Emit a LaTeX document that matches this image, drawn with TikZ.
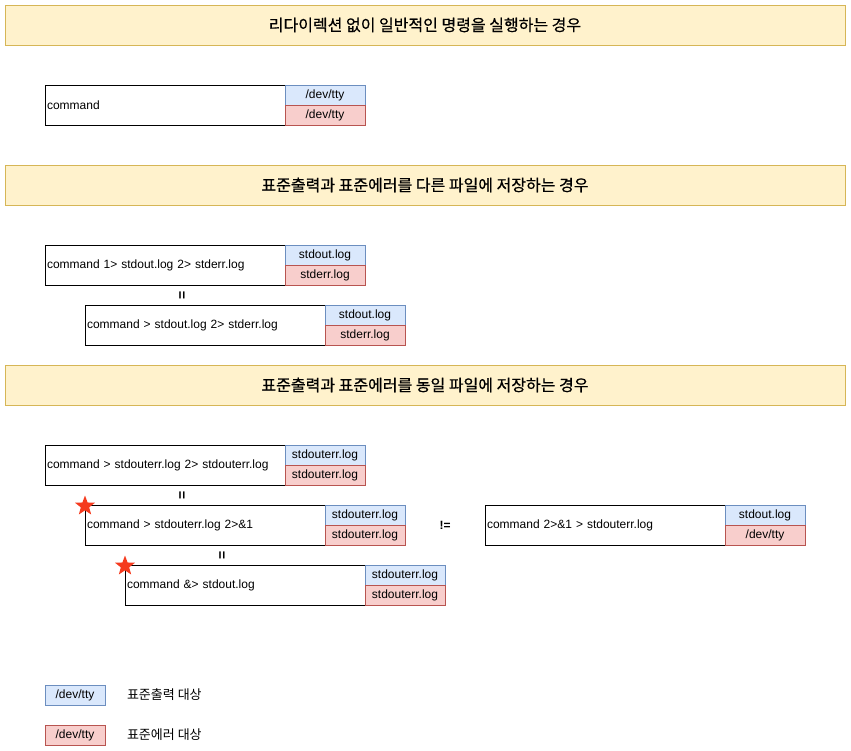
\documentclass[tikz,border=0pt]{standalone}
\usepackage{fontspec}
\setmainfont{Liberation Sans}
\newfontfamily\kr{Noto Sans CJK KR}
\newfontfamily\krbold[FakeBold=0.6]{Noto Sans CJK KR}
\usetikzlibrary{shapes.geometric}

\definecolor{titlefill}{HTML}{FFF2CC}
\definecolor{titleline}{HTML}{D6B656}
\definecolor{outfill}{HTML}{DAE8FC}
\definecolor{outline}{HTML}{6C8EBF}
\definecolor{errfill}{HTML}{F8CECC}
\definecolor{errline}{HTML}{B85450}
\definecolor{starred}{HTML}{F53A1E}

\tikzset{
  every node/.style={outer sep=0pt},
  titlebox/.style={draw=titleline, fill=titlefill, minimum width=840pt, minimum height=40pt, inner sep=0pt, anchor=north west, font=\krbold\fontsize{16}{18}\selectfont},
  cmdbox/.style={draw=black, line width=0.8pt, text width=236pt, minimum height=40pt, inner sep=2pt, align=left, anchor=north west, font=\fontsize{12}{14}\selectfont},
  outbox/.style={draw=outline, fill=outfill, minimum width=80pt, minimum height=20pt, inner sep=0pt, text height=9pt, text depth=2pt, anchor=north west, font=\fontsize{12}{14}\selectfont},
  errbox/.style={draw=errline, fill=errfill, minimum width=80pt, minimum height=20pt, inner sep=0pt, text height=9pt, text depth=2pt, anchor=north west, font=\fontsize{12}{14}\selectfont},
  eqsign/.style={font=\fontsize{14}{16}\selectfont\bfseries, rotate=90, inner sep=0pt},
  mark star/.style={star, star points=5, star point ratio=2.4, fill=starred, draw=none, minimum size=21pt, inner sep=0pt},
  legendtext/.style={anchor=west, inner sep=0pt, font=\kr\fontsize{13}{15}\selectfont}
}

\begin{document}
\begin{tikzpicture}[x=1pt,y=-1pt]
\useasboundingbox (0,0) rectangle (851,751);

% titles
\node[titlebox] (title1) at (5,5) {리다이렉션 없이 일반적인 명령을 실행하는 경우};
\node[titlebox] (title2) at (5,165) {표준출력과 표준에러를 다른 파일에 저장하는 경우};
\node[titlebox] (title3) at (5,365) {표준출력과 표준에러를 동일 파일에 저장하는 경우};

% no redirection
\node[cmdbox] (plain) at (45,85) {command};
\node[outbox] (plain out) at (plain.north east) {/dev/tty};
\node[errbox] (plain err) at (plain out.south west) {/dev/tty};

% separate files
\node[cmdbox] (sep1) at (45,245) {command 1> stdout.log 2> stderr.log};
\node[outbox] (sep1 out) at (sep1.north east) {stdout.log};
\node[errbox] (sep1 err) at (sep1 out.south west) {stderr.log};

\node[eqsign] (eq1) at (183,295) {=};

\node[cmdbox] (sep2) at (85,305) {command > stdout.log 2> stderr.log};
\node[outbox] (sep2 out) at (sep2.north east) {stdout.log};
\node[errbox] (sep2 err) at (sep2 out.south west) {stderr.log};

% same file
\node[cmdbox] (same1) at (45,445) {command > stdouterr.log 2> stdouterr.log};
\node[outbox] (same1 out) at (same1.north east) {stdouterr.log};
\node[errbox] (same1 err) at (same1 out.south west) {stdouterr.log};

\node[eqsign] (eq2) at (183,495) {=};

\node[cmdbox] (same2) at (85,505) {command > stdouterr.log 2>\&1};
\node[outbox] (same2 out) at (same2.north east) {stdouterr.log};
\node[errbox] (same2 err) at (same2 out.south west) {stdouterr.log};
\node[mark star] (star1) at ([yshift=-1pt]same2.north west) {};

\node[font=\fontsize{12}{14}\selectfont\bfseries] (neq) at (445,525) {!=};

\node[cmdbox] (order) at (485,505) {command 2>\&1 > stdouterr.log};
\node[outbox] (order out) at (order.north east) {stdout.log};
\node[errbox] (order err) at (order out.south west) {/dev/tty};

\node[eqsign] (eq3) at (223,555) {=};

\node[cmdbox] (same3) at (125,565) {command \&> stdout.log};
\node[outbox] (same3 out) at (same3.north east) {stdouterr.log};
\node[errbox] (same3 err) at (same3 out.south west) {stdouterr.log};
\node[mark star] (star2) at ([yshift=-1pt]same3.north west) {};

% legend
\node[outbox, minimum width=60pt] (key out) at (45,685) {/dev/tty};
\node[legendtext] (key out text) at (127,695) {표준출력 대상};
\node[errbox, minimum width=60pt] (key err) at (45,725) {/dev/tty};
\node[legendtext] (key err text) at (127,735) {표준에러 대상};
\end{tikzpicture}
\end{document}
